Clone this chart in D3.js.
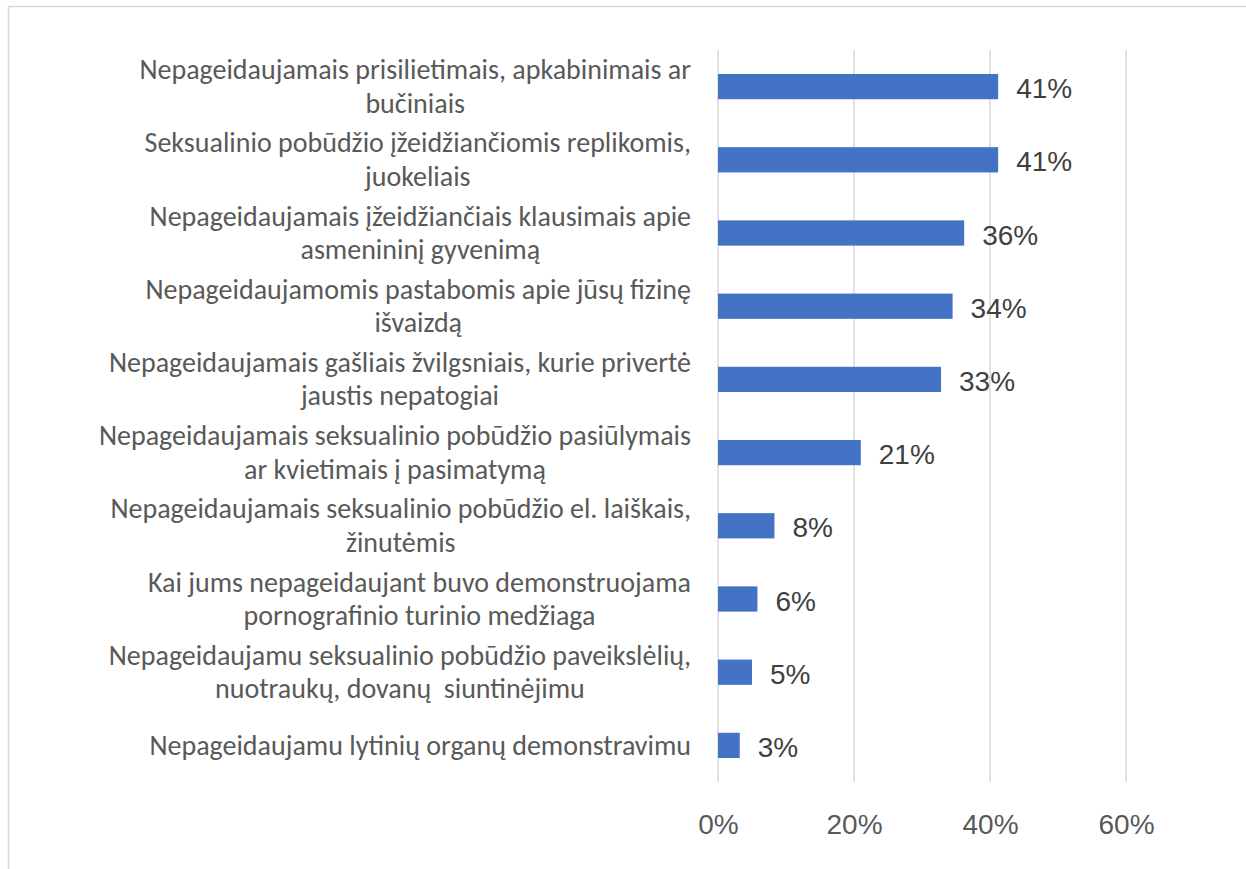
<!DOCTYPE html>
<html>
<head>
<meta charset="utf-8">
<script src="https://cdn.jsdelivr.net/npm/d3@7"></script>
<style>
  body { margin: 0; background: #fff; }
  text { white-space: pre; }
</style>
</head>
<body>
<div id="chart"></div>
<script>
// category labels, already split on the lines they wrap at
const categories = [
  ["Nepageidaujamais prisilietimais, apkabinimais ar", "bučiniais"],
  ["Seksualinio pobūdžio įžeidžiančiomis replikomis,", "juokeliais"],
  ["Nepageidaujamais įžeidžiančiais klausimais apie", "asmenininį gyvenimą"],
  ["Nepageidaujamomis pastabomis apie jūsų fizinę", "išvaizdą"],
  ["Nepageidaujamais gašliais žvilgsniais, kurie privertė", "jaustis nepatogiai"],
  ["Nepageidaujamais seksualinio pobūdžio pasiūlymais", "ar kvietimais į pasimatymą"],
  ["Nepageidaujamais seksualinio pobūdžio el. laiškais,", "žinutėmis"],
  ["Kai jums nepageidaujant buvo demonstruojama", "pornografinio turinio medžiaga"],
  ["Nepageidaujamu seksualinio pobūdžio paveikslėlių,", "nuotraukų, dovanų  siuntinėjimu"],
  ["Nepageidaujamu lytinių organų demonstravimu"]
];
const values = [41.2, 41.2, 36.2, 34.5, 32.8, 21.0, 8.3, 5.8, 5.0, 3.2];
const valueLabels = ["41%", "41%", "36%", "34%", "33%", "21%", "8%", "6%", "5%", "3%"];
const xTicks = [0, 20, 40, 60];

const width = 1246, height = 869;
const plot = {left: 718, right: 1126, top: 50, bottom: 782};
const labelRight = 691;
const lineH = 33.5;

const svg = d3.select("#chart").append("svg")
    .attr("width", width)
    .attr("height", height);

// chart frame
svg.append("rect")
    .attr("x", 8.5).attr("y", 6.5)
    .attr("width", 1300).attr("height", 900)
    .attr("fill", "none")
    .attr("stroke", "#d9d9d9")
    .attr("stroke-width", 1.5);

const x = d3.scaleLinear()
    .domain([0, 60])
    .range([plot.left, plot.right]);

const y = d3.scaleBand()
    .domain(d3.range(categories.length))
    .range([plot.top, plot.bottom])
    .paddingInner(0.655)
    .paddingOuter(0.3275);

// gridlines
svg.append("g")
  .selectAll("line")
  .data(xTicks)
  .enter().append("line")
    .attr("x1", d => x(d)).attr("x2", d => x(d))
    .attr("y1", plot.top).attr("y2", plot.bottom)
    .attr("stroke", "#d9d9d9")
    .attr("stroke-width", 1.5);

// bars
svg.append("g")
  .selectAll("rect")
  .data(values)
  .enter().append("rect")
    .attr("x", x(0))
    .attr("y", (d, i) => y(i))
    .attr("width", d => x(d) - x(0))
    .attr("height", y.bandwidth())
    .attr("fill", "#4472c4");

// value labels
svg.append("g")
  .selectAll("text")
  .data(values)
  .enter().append("text")
    .attr("x", d => x(d) + 18)
    .attr("y", (d, i) => y(i) + y.bandwidth() / 2 + 11.5)
    .attr("font-family", "'Liberation Sans', Arial, sans-serif")
    .attr("font-size", 28)
    .attr("fill", "#404040")
    .text((d, i) => valueLabels[i]);

// x axis labels
const xAxis = svg.append("g")
    .attr("transform", "translate(0," + plot.bottom + ")")
    .call(d3.axisBottom(x).tickValues(xTicks).tickSize(0).tickPadding(0)
      .tickFormat(d => d + "%"));
xAxis.select(".domain").remove();
xAxis.selectAll("text")
    .attr("dy", null)
    .attr("y", 52)
    .attr("font-family", "'Liberation Sans', Arial, sans-serif")
    .attr("font-size", 28)
    .attr("fill", "#595959");

// category labels: lines centred in a block whose right edge sits at labelRight
const catG = svg.append("g");
categories.forEach(function(lines, i) {
  const cy = y(i) + y.bandwidth() / 2;
  const g = catG.append("g");
  const texts = g.selectAll("text")
    .data(lines)
    .enter().append("text")
      .attr("y", (d, j) => cy + (j - (lines.length - 1) / 2) * lineH + 9.3)
      .attr("font-family", "Carlito, 'Liberation Sans Narrow', 'Noto Sans', sans-serif")
      .attr("font-size", 28)
      .attr("fill", "#595959")
      .attr("text-anchor", "middle")
      .text(d => d);
  let maxW = 0;
  texts.each(function() { maxW = Math.max(maxW, this.getComputedTextLength()); });
  texts.attr("x", labelRight - maxW / 2);
});
</script>
</body>
</html>
